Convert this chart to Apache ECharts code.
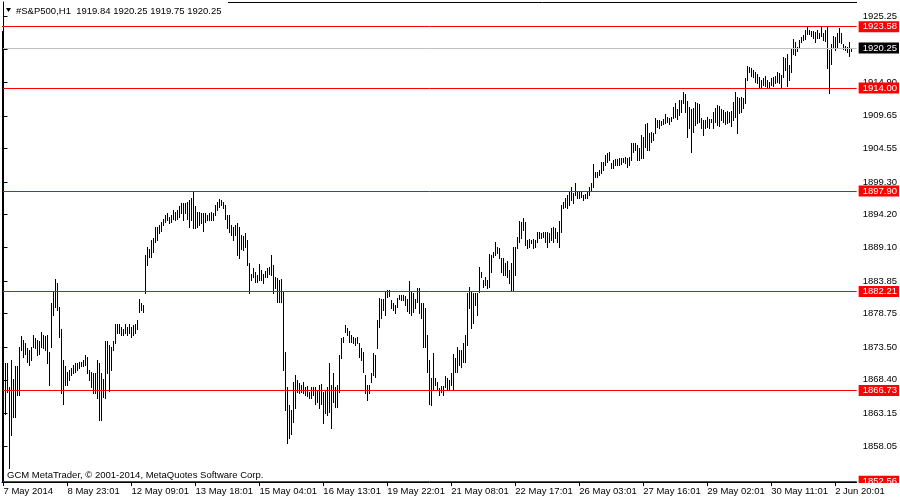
<!DOCTYPE html>
<html>
<head>
<meta charset="utf-8">
<title>#S&amp;P500,H1</title>
<script src="https://cdn.jsdelivr.net/npm/echarts@6/dist/echarts.min.js"></script>
<style>
  html, body { margin: 0; padding: 0; background: #fff; }
  #chart { width: 900px; height: 500px; }
</style>
</head>
<body>
<div id="chart"></div>
<script>
const symbolName = '#S&P500,H1'
const lastBar = [1919.84, 1920.25, 1919.75, 1920.25]   // O H L C of the last bar
const copyright = 'GCM MetaTrader, \u00a9 2001-2014, MetaQuotes Software Corp.'

// time axis: one label every 32 hourly bars
const timeTicks = [0, 32, 64, 96, 128, 160, 192, 224, 256, 288, 320, 352, 384, 416]
const timeLabels = ['7 May 2014', '8 May 23:01', '12 May 09:01', '13 May 18:01', '15 May 04:01',
  '16 May 13:01', '19 May 22:01', '21 May 08:01', '22 May 17:01', '26 May 03:01',
  '27 May 16:01', '29 May 02:01', '30 May 11:01', '2 Jun 20:01']

// price scale ticks as printed by the terminal
const priceTicks = [1925.25, 1920.10, 1914.90, 1909.65, 1904.55, 1899.30, 1894.20,
  1889.10, 1883.85, 1878.75, 1873.50, 1868.40, 1863.15, 1858.05]

// horizontal levels drawn on the chart, and the bid line
const levels = [1923.58, 1914.00, 1897.90, 1882.21, 1866.73, 1852.56]
const bid = 1920.25

// H1 bars, high and low
const highs = [
  1868.1, 1871.1, 1871.1, 1867.3, 1871.5, 1868.6, 1870.5, 1870.5, 1873.6, 1875.2, 1874.6, 1874.2, 1873.3, 1873.1, 1873.6, 1875.4,
  1874.9, 1874.6, 1874.4, 1875.9, 1875.4, 1875.2, 1875.4, 1872.8, 1880.4, 1882.2, 1884.1, 1883.5, 1879.8, 1876.4, 1871.5, 1870.5,
  1869.7, 1869.9, 1870.2, 1870.7, 1871.0, 1871.1, 1871.2, 1871.2, 1871.5, 1872.3, 1872.0, 1869.9, 1869.7, 1869.4, 1869.4, 1871.5,
  1871.0, 1869.4, 1868.6, 1874.4, 1874.4, 1873.8, 1873.6, 1874.4, 1877.2, 1877.2, 1877.2, 1876.7, 1876.4, 1877.2, 1876.7, 1877.2,
  1876.7, 1876.9, 1877.2, 1877.7, 1881.1, 1880.4, 1880.1, 1887.9, 1889.2, 1888.9, 1890.2, 1890.5, 1892.3, 1892.3, 1892.6, 1893.1,
  1893.6, 1894.2, 1894.4, 1893.9, 1894.2, 1894.9, 1894.7, 1894.9, 1895.5, 1896.0, 1896.0, 1896.0, 1896.2, 1896.5, 1896.8, 1897.8,
  1895.5, 1894.7, 1894.7, 1894.4, 1894.4, 1894.4, 1894.2, 1894.4, 1894.7, 1894.5, 1895.7, 1896.2, 1896.65, 1896.5, 1896.2, 1895.7,
  1894.15, 1894.15, 1892.6, 1892.3, 1892.6, 1892.85, 1892.3, 1891.0, 1890.8, 1891.3, 1890.25, 1886.6, 1885.0, 1885.8, 1885.3, 1884.8,
  1886.45, 1885.55, 1885.0, 1885.4, 1885.8, 1886.1, 1887.9, 1886.3, 1884.5, 1884.25, 1884.0, 1884.15, 1882.2, 1872.8, 1867.35, 1864.45,
  1863.7, 1868.1, 1869.15, 1868.4, 1867.85, 1867.6, 1868.1, 1867.35, 1867.5, 1866.55, 1867.35, 1867.35, 1867.35, 1866.8, 1867.6, 1867.7,
  1866.55, 1866.8, 1867.35, 1871.0, 1867.6, 1869.4, 1867.35, 1867.6, 1872.3, 1874.9, 1875.15, 1877.0, 1876.55, 1876.0, 1875.4, 1875.15,
  1874.9, 1875.15, 1874.1, 1873.3, 1872.8, 1869.15, 1867.6, 1867.6, 1869.4, 1872.55, 1872.3, 1877.75, 1881.25, 1881.1, 1881.1, 1882.3,
  1882.4, 1882.4, 1880.9, 1880.35, 1880.1, 1881.25, 1881.65, 1881.65, 1881.65, 1881.55, 1881.1, 1883.85, 1882.2, 1881.9, 1881.1, 1882.7,
  1882.7, 1880.35, 1880.35, 1879.6, 1875.4, 1871.5, 1868.64, 1872.54, 1868.64, 1868.12, 1867.07, 1867.44, 1867.44, 1869.05, 1868.64, 1868.38,
  1869.42, 1872.39, 1871.76, 1873.59, 1873.07, 1873.07, 1874.1, 1875.4, 1881.92, 1882.96, 1882.07, 1881.92, 1881.92, 1881.92, 1886.1, 1885.3,
  1884.0, 1884.52, 1884.0, 1888.0, 1887.9, 1888.43, 1889.99, 1889.21, 1888.95, 1887.49, 1887.39, 1886.6, 1886.97, 1885.56, 1886.6, 1889.21,
  1889.21, 1890.77, 1893.22, 1893.12, 1893.64, 1893.12, 1890.25, 1890.4, 1890.25, 1890.4, 1890.25, 1891.55, 1891.55, 1891.3, 1891.55, 1891.55,
  1891.55, 1891.3, 1892.18, 1892.34, 1892.07, 1891.55, 1893.22, 1895.72, 1896.24, 1896.76, 1897.3, 1897.8, 1898.6, 1897.54, 1899.1, 1897.8,
  1897.9, 1897.9, 1897.3, 1897.4, 1897.8, 1898.6, 1899.1, 1902.07, 1900.93, 1900.82, 1901.19, 1902.39, 1902.5, 1903.53, 1903.8, 1904.05,
  1902.23, 1902.75, 1902.9, 1902.9, 1903.0, 1903.12, 1903.0, 1903.27, 1903.12, 1903.27, 1905.36, 1905.36, 1905.36, 1905.1, 1904.57, 1906.66,
  1906.4, 1908.33, 1908.48, 1906.92, 1907.18, 1907.02, 1909.37, 1909.0, 1909.0, 1908.85, 1909.16, 1909.89, 1909.52, 1909.26, 1909.52, 1911.09,
  1911.61, 1910.67, 1912.13, 1912.13, 1913.33, 1913.01, 1911.97, 1911.09, 1910.72, 1910.93, 1911.76, 1911.61, 1911.45, 1909.37, 1909.0, 1909.0,
  1909.52, 1909.16, 1909.16, 1910.31, 1910.93, 1911.35, 1911.24, 1910.72, 1910.57, 1910.31, 1910.41, 1910.31, 1910.41, 1911.76, 1913.33, 1912.65,
  1912.49, 1912.65, 1912.39, 1915.62, 1917.49, 1917.34, 1917.08, 1916.82, 1916.56, 1916.14, 1915.77, 1915.25, 1915.62, 1915.93, 1915.25, 1915.0,
  1915.62, 1915.77, 1915.93, 1916.56, 1916.3, 1916.03, 1918.9, 1918.64, 1919.26, 1917.6, 1920.1, 1921.66, 1921.24, 1920.46, 1921.5, 1922.02,
  1922.28, 1923.07, 1923.69, 1923.07, 1922.91, 1922.91, 1922.81, 1923.07, 1922.55, 1923.59, 1922.55, 1923.07, 1923.59, 1919.94, 1920.83, 1922.18,
  1922.02, 1922.55, 1923.43, 1922.55, 1920.83, 1920.62, 1920.46, 1921.14, 1920.25
]
const lows = [
  1863.9, 1863.1, 1866.5, 1854.6, 1859.8, 1862.6, 1862.6, 1866.0, 1866.0, 1873.1, 1872.0, 1872.5, 1871.2, 1870.7, 1871.5, 1873.6,
  1873.3, 1872.3, 1872.5, 1873.6, 1873.3, 1873.1, 1871.0, 1867.6, 1873.6, 1878.5, 1879.8, 1879.3, 1875.1, 1866.3, 1864.7, 1867.6,
  1867.6, 1868.4, 1869.1, 1869.4, 1869.7, 1869.9, 1870.2, 1870.5, 1870.5, 1870.7, 1869.4, 1868.4, 1867.3, 1866.3, 1866.3, 1865.5,
  1862.2, 1862.2, 1865.7, 1865.5, 1869.4, 1866.7, 1869.9, 1873.1, 1874.1, 1875.7, 1875.7, 1875.4, 1875.4, 1875.7, 1875.4, 1875.7,
  1875.1, 1875.4, 1875.7, 1876.4, 1879.0, 1879.3, 1879.0, 1881.9, 1886.3, 1887.6, 1887.6, 1888.4, 1890.0, 1890.2, 1891.3, 1891.6,
  1892.6, 1893.1, 1893.4, 1892.9, 1893.1, 1893.6, 1893.4, 1893.6, 1893.9, 1894.4, 1893.4, 1894.4, 1893.6, 1892.3, 1893.4, 1892.1,
  1892.1, 1892.3, 1892.6, 1892.9, 1891.6, 1893.1, 1893.4, 1893.4, 1893.4, 1893.4, 1894.15, 1894.9, 1895.45, 1895.7, 1895.3, 1893.6,
  1892.1, 1891.55, 1891.0, 1890.25, 1891.0, 1887.9, 1887.4, 1888.9, 1888.7, 1889.2, 1886.3, 1881.9, 1884.0, 1884.5, 1883.7, 1883.7,
  1884.0, 1884.0, 1883.5, 1884.5, 1884.5, 1884.9, 1884.8, 1881.9, 1882.7, 1880.6, 1880.6, 1880.6, 1869.95, 1863.7, 1858.5, 1859.25,
  1860.0, 1861.85, 1863.95, 1866.55, 1866.3, 1866.55, 1866.3, 1866.0, 1865.8, 1865.5, 1865.5, 1866.0, 1864.7, 1865.0, 1863.95, 1864.7,
  1861.6, 1863.15, 1862.9, 1863.4, 1860.8, 1865.0, 1864.2, 1864.2, 1866.55, 1871.75, 1874.35, 1875.9, 1875.4, 1874.35, 1874.35, 1874.1,
  1873.85, 1874.1, 1872.0, 1871.5, 1869.7, 1866.3, 1865.25, 1866.3, 1868.1, 1869.15, 1868.9, 1873.3, 1876.7, 1878.0, 1879.3, 1878.5,
  1881.4, 1881.55, 1879.6, 1879.3, 1878.8, 1879.8, 1881.1, 1880.9, 1880.9, 1880.1, 1879.15, 1878.8, 1878.5, 1879.05, 1879.6, 1880.6,
  1878.8, 1878.0, 1873.6, 1873.6, 1869.7, 1864.6, 1864.47, 1866.81, 1867.6, 1866.81, 1866.03, 1866.55, 1866.03, 1867.34, 1866.81, 1866.81,
  1867.6, 1866.81, 1869.68, 1869.68, 1870.72, 1870.46, 1871.24, 1871.24, 1873.85, 1879.57, 1876.45, 1877.23, 1880.1, 1878.53, 1882.18, 1884.52,
  1882.96, 1883.22, 1882.7, 1882.96, 1885.3, 1887.65, 1887.9, 1888.17, 1887.39, 1885.3, 1884.78, 1884.78, 1884.52, 1883.48, 1882.44, 1882.28,
  1884.78, 1888.95, 1889.99, 1890.5, 1891.82, 1889.47, 1889.05, 1889.21, 1889.73, 1888.95, 1889.21, 1889.99, 1890.5, 1890.5, 1890.77, 1889.99,
  1889.21, 1889.99, 1890.25, 1889.99, 1890.5, 1889.99, 1889.21, 1891.55, 1895.2, 1895.46, 1895.3, 1895.72, 1896.5, 1895.98, 1897.3, 1896.76,
  1896.76, 1897.0, 1896.5, 1896.76, 1896.76, 1897.3, 1897.9, 1898.6, 1900.15, 1900.15, 1900.41, 1900.67, 1901.19, 1901.97, 1902.5, 1902.75,
  1901.45, 1901.55, 1901.97, 1901.97, 1901.97, 1902.07, 1902.39, 1902.23, 1901.71, 1901.97, 1902.75, 1904.05, 1904.3, 1902.75, 1902.75, 1903.12,
  1903.0, 1904.84, 1904.32, 1904.32, 1905.62, 1905.88, 1906.92, 1907.96, 1907.81, 1908.22, 1908.33, 1908.48, 1908.74, 1908.33, 1908.85, 1909.26,
  1909.52, 1909.16, 1909.78, 1910.31, 1911.61, 1910.31, 1906.4, 1907.81, 1904.06, 1907.18, 1908.22, 1908.48, 1908.64, 1907.7, 1906.66, 1907.7,
  1907.96, 1907.81, 1908.64, 1907.7, 1908.64, 1908.22, 1908.12, 1908.95, 1908.64, 1908.33, 1908.48, 1908.64, 1908.12, 1909.0, 1909.52, 1906.92,
  1910.05, 1910.2, 1910.93, 1911.61, 1915.25, 1916.45, 1915.93, 1915.77, 1915.0, 1914.73, 1914.06, 1914.06, 1914.47, 1914.37, 1914.06, 1914.06,
  1914.47, 1914.37, 1914.73, 1915.0, 1914.73, 1914.06, 1915.77, 1916.82, 1914.37, 1915.25, 1916.56, 1919.26, 1919.16, 1919.78, 1920.2, 1921.24,
  1921.5, 1921.66, 1922.39, 1922.39, 1922.18, 1921.87, 1921.24, 1921.76, 1921.76, 1922.18, 1921.5, 1921.35, 1917.08, 1913.17, 1917.7, 1920.2,
  1919.94, 1920.46, 1921.24, 1920.98, 1920.1, 1919.94, 1919.58, 1919.06, 1919.75
]

const FONT = '"Liberation Sans", "DejaVu Sans", sans-serif'
const FONT_SIZE = 9.5

const chart = echarts.init(document.getElementById('chart'), null, { renderer: 'canvas' })

// one vertical high-low stroke per bar, snapped to the pixel grid so it stays 1px black
function renderBar(params, api) {
  const i = api.value(0)
  const lo = api.coord([i, api.value(1)])
  const hi = api.coord([i, api.value(2)])
  const x = Math.floor(lo[0]) + 0.5
  return {
    type: 'line',
    shape: { x1: x, y1: Math.round(lo[1]) + 1, x2: x, y2: Math.round(hi[1]) },
    style: { stroke: '#000', lineWidth: 1, lineCap: 'butt' }
  }
}

const levelLabel = {
  show: true,
  position: 'end',
  distance: 2,
  formatter: p => p.value.toFixed(2),
  color: '#fff',
  backgroundColor: '#ff0000',
  padding: [1, 2, 0, 4],
  fontFamily: FONT,
  fontSize: FONT_SIZE
}

chart.setOption({
  animation: false,
  backgroundColor: '#fff',
  grid: { left: 2, top: 2, width: 855, height: 480 },
  xAxis: {
    type: 'value',
    min: -0.75,
    max: 426.75,
    z: 60,
    axisLine: { show: true, lineStyle: { color: '#000', width: 1 } },
    axisTick: { show: true, customValues: timeTicks, length: 4, lineStyle: { color: '#000' } },
    axisLabel: {
      customValues: timeTicks,
      formatter: v => timeLabels[timeTicks.indexOf(v)],
      align: 'left',
      margin: 4,
      color: '#000',
      fontFamily: FONT,
      fontSize: FONT_SIZE
    },
    splitLine: { show: false }
  },
  yAxis: {
    type: 'value',
    position: 'right',
    min: 1852.44,
    max: 1927.44,
    axisLine: { show: true, lineStyle: { color: '#000', width: 1 } },
    axisTick: { show: true, customValues: priceTicks, length: 4, lineStyle: { color: '#000' } },
    axisLabel: {
      customValues: priceTicks,
      formatter: v => v.toFixed(2),
      margin: 6,
      color: '#000',
      fontFamily: FONT,
      fontSize: FONT_SIZE
    },
    splitLine: { show: false }
  },
  series: [
    {
      type: 'custom',
      name: 'bars',
      z: 2,
      clip: false,
      renderItem: renderBar,
      encode: { x: 0, y: [1, 2] },
      data: highs.map((h, i) => [i, lows[i], h])
    },
    {
      type: 'line',
      name: 'levels',
      z: 5,
      data: [],
      showSymbol: false,
      markLine: {
        silent: true,
        symbol: 'none',
        lineStyle: { color: '#ff0000', width: 1, type: 'solid' },
        label: levelLabel,
        data: [
          { yAxis: bid, lineStyle: { color: '#c0c0c0', width: 1, type: 'solid' }, label: { backgroundColor: '#000' } }
        ].concat(levels.map(v => ({ yAxis: v })))
      }
    }
  ],
  graphic: [
    { type: 'line', z: 10, shape: { x1: 2.5, y1: 31, x2: 2.5, y2: 482 }, style: { stroke: '#000', lineWidth: 1 } },
    { type: 'line', z: 10, shape: { x1: 228, y1: 2.5, x2: 857, y2: 2.5 }, style: { stroke: '#000', lineWidth: 1 } },
    { type: 'polygon', z: 10, shape: { points: [[6, 8], [11, 8], [8.5, 12]] }, style: { fill: '#000' } },
    {
      type: 'text', z: 10, x: 16, y: 11,
      style: {
        text: symbolName + '  ' + lastBar.map(v => v.toFixed(2)).join(' '),
        fill: '#000', fontFamily: FONT, fontSize: FONT_SIZE, verticalAlign: 'middle'
      }
    },
    {
      type: 'text', z: 10, x: 7, y: 475,
      style: { text: copyright, fill: '#000', fontFamily: FONT, fontSize: FONT_SIZE, verticalAlign: 'middle' }
    },
    // the bottom price box is cut off by the time scale
    { type: 'rect', z: 50, shape: { x: 858, y: 483, width: 42, height: 17 }, style: { fill: '#fff' } }
  ]
})
</script>
</body>
</html>
